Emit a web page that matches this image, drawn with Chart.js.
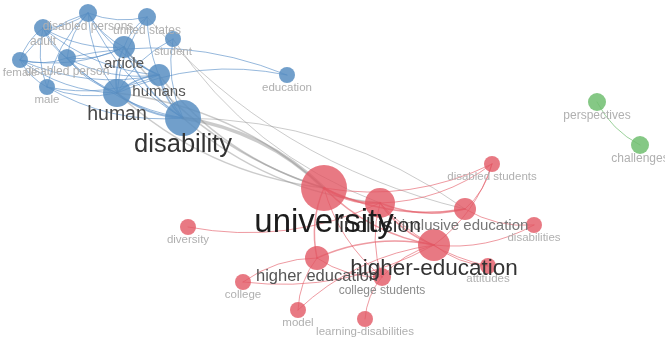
<!DOCTYPE html>
<html>
<head>
<meta charset="utf-8">
<script src="https://cdn.jsdelivr.net/npm/chart.js@4.4.1/dist/chart.umd.min.js"></script>
<style>
  html, body { margin: 0; padding: 0; background: #fff; }
  #wrap { width: 665px; height: 343px; position: relative; }
</style>
</head>
<body>
<div id="wrap"><canvas id="myChart"></canvas></div>
<script>
// keywords (nodes)
const nodeNames = [
  'disabled persons', 'adult', 'united states', 'student', 'article', 'disabled person',
  'female', 'male', 'humans', 'human', 'disability', 'education',
  'university', 'inclusion', 'disabled students', 'inclusive education', 'disabilities',
  'higher-education', 'attitudes', 'diversity', 'higher education', 'college',
  'college students', 'model', 'learning-disabilities',
  'perspectives', 'challenges'
];
const nodeX = [88, 43, 147, 173, 124, 67, 20, 47, 159, 117, 183, 287,
  324, 380, 492, 465, 534, 434, 488, 188, 317, 243, 382, 298, 365,
  597, 640];
const nodeY = [13, 28, 17, 39, 47, 58, 60, 87, 75, 93, 118, 75,
  188, 203, 164, 209, 225, 245, 266, 227, 258, 282, 277, 310, 319,
  102, 145];
const nodeWeight = [9, 9, 9, 8, 11, 9, 8, 8, 11, 14, 18, 8,
  23, 15, 8, 11, 8, 16, 8, 8, 12, 8, 9, 8, 8,
  9, 9];
const nodeCluster = [0, 0, 0, 0, 0, 0, 0, 0, 0, 0, 0, 0,
  1, 1, 1, 1, 1, 1, 1, 1, 1, 1, 1, 1, 1,
  2, 2];

// links: from, to, strength
const edgeFrom = [
  // blue cluster
  1, 1, 1, 1, 1, 1, 1, 0, 0, 0, 0, 0, 0, 0, 6, 6, 6, 6, 6, 7, 7, 7,
  5, 5, 5, 5, 4, 4, 4, 8, 8, 9, 2, 2, 3, 3, 11, 11, 0, 2,
  // between clusters
  12, 12, 8, 15, 3, 2, 4, 10, 9,
  // red cluster
  12, 12, 12, 12, 12, 12, 13, 13, 13, 13, 19, 15, 15, 17, 17, 17, 17, 17, 17,
  20, 20, 20, 22, 13, 21,
  // green cluster
  25
];
const edgeTo = [
  0, 6, 7, 5, 4, 9, 8, 4, 9, 8, 6, 7, 5, 10, 5, 9, 8, 4, 7, 9, 8, 10,
  9, 4, 8, 10, 9, 8, 10, 9, 10, 10, 9, 10, 10, 9, 9, 5, 2, 4,
  10, 9, 12, 10, 13, 15, 12, 13, 12,
  13, 14, 15, 20, 17, 22, 14, 15, 17, 22, 13, 14, 16, 16, 18, 20, 22, 14, 23,
  21, 22, 23, 24, 18, 17,
  26
];
const edgeWeight = [
  1, 1, 1, 1, 1, 1, 1, 1, 1, 1, 1, 1, 1, 1, 1, 1, 1, 1, 1, 1, 1, 1,
  1, 1, 1, 1, 1.5, 1.5, 1.5, 1.5, 1.5, 2, 1, 1, 1, 1, 1, 1, 1, 1,
  3.5, 1.5, 1.5, 1, 1, 1, 1.5, 1.5, 1.5,
  2.5, 1, 1.5, 1.5, 1.5, 1, 1, 1.5, 1.5, 1, 1, 1, 1, 1, 1, 1.5, 1, 1, 1,
  1, 1, 1, 1, 1, 1,
  1
];

const nodeColors = ['rgba(88,142,194,0.85)', 'rgba(226,88,100,0.8)', 'rgba(112,190,112,0.85)'];
const edgeColors = ['rgba(80,136,196,0.6)', 'rgba(226,86,98,0.6)', 'rgba(112,190,112,0.7)'];
const crossColor = 'rgba(140,140,140,0.45)';

function labelSize(w) {
  return w <= 9 ? 11.5 + (w - 8) * 0.5 : 12 + (w - 9) * 1.5;
}
function labelColor(s) {
  if (s >= 30) return '#1c1c1c';
  if (s >= 20) return '#333333';
  if (s >= 17) return '#474747';
  if (s >= 15) return '#555555';
  return '#b0b0b0';
}

const datasets = [0, 1, 2].map(c => ({
  data: nodeNames.map((n, i) => ({ x: nodeX[i], y: nodeY[i], r: nodeWeight[i], c: nodeCluster[i] }))
                 .filter(p => p.c === c),
  backgroundColor: nodeColors[c],
  borderWidth: 0,
  clip: false
}));

const edgePlugin = {
  id: 'edges',
  beforeDatasetsDraw(chart) {
    const { ctx, scales: { x, y } } = chart;
    ctx.save();
    ctx.lineCap = 'round';
    for (let k = 0; k < edgeFrom.length; k++) {
      const a = edgeFrom[k], b = edgeTo[k];
      const x1 = x.getPixelForValue(nodeX[a]), y1 = y.getPixelForValue(nodeY[a]);
      const x2 = x.getPixelForValue(nodeX[b]), y2 = y.getPixelForValue(nodeY[b]);
      const dx = x2 - x1, dy = y2 - y1;
      const bend = 0.16;
      const cx = (x1 + x2) / 2 - dy * bend, cy = (y1 + y2) / 2 + dx * bend;
      ctx.strokeStyle = nodeCluster[a] === nodeCluster[b] ? edgeColors[nodeCluster[a]] : crossColor;
      ctx.lineWidth = edgeWeight[k];
      ctx.beginPath();
      ctx.moveTo(x1, y1);
      ctx.quadraticCurveTo(cx, cy, x2, y2);
      ctx.stroke();
    }
    ctx.restore();
  }
};

const labelPlugin = {
  id: 'labels',
  afterDatasetsDraw(chart) {
    const { ctx, scales: { x, y } } = chart;
    const order = nodeNames.map((n, i) => i).sort((a, b) => nodeWeight[a] - nodeWeight[b]);
    ctx.save();
    ctx.textAlign = 'center';
    ctx.textBaseline = 'top';
    order.forEach(i => {
      const s = labelSize(nodeWeight[i]);
      ctx.font = s + 'px "Liberation Sans", Arial, sans-serif';
      // mid-sized labels fade to grey as in the map
      ctx.fillStyle = nodeNames[i] === 'inclusive education' ? '#777777'
                    : nodeNames[i] === 'college students' ? '#8c8c8c' : labelColor(s);
      const px = x.getPixelForValue(nodeX[i]);
      const py = y.getPixelForValue(nodeY[i]) + nodeWeight[i] * 0.75 + 1;
      ctx.fillText(nodeNames[i], px, py);
    });
    ctx.restore();
  }
};

new Chart(document.getElementById('myChart').getContext('2d'), {
  type: 'bubble',
  data: { datasets: datasets },
  options: {
    responsive: true,
    maintainAspectRatio: false,
    animation: false,
    layout: { padding: 0, autoPadding: false },
    plugins: { legend: { display: false }, tooltip: { enabled: false } },
    events: [],
    scales: {
      x: { type: 'linear', min: 0, max: 665, display: false },
      y: { type: 'linear', min: 0, max: 343, reverse: true, display: false }
    }
  },
  plugins: [edgePlugin, labelPlugin]
});
</script>
</body>
</html>
